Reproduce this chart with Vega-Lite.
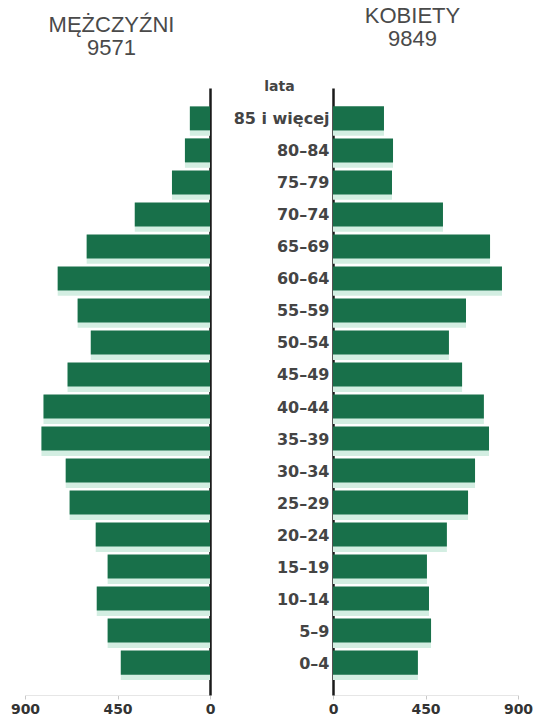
{
  "$schema": "https://vega.github.io/schema/vega-lite/v6.json",
  "padding": {"left": 10, "top": 5, "right": 5, "bottom": 2},
  "background": "white",
  "config": {
    "view": {"stroke": null},
    "font": "Liberation Sans",
    "title": {"font": "Liberation Sans", "fontSize": 22, "fontWeight": "normal", "color": "#4a4a4a", "lineHeight": 23, "offset": 28, "anchor": "middle"},
    "axisX": {"labelFont": "DejaVu Sans", "labelFontWeight": "bold", "labelFontSize": 14, "labelColor": "#333", "domainColor": "#e6e6e6", "domainWidth": 1, "tickColor": "#c8c8c8", "tickSize": 4, "labelPadding": 3, "labelFlush": false, "grid": false, "title": null}
  },
  "data": {"values": [
    {"age": "85 i więcej", "sex": "M", "value": 98},
    {"age": "80–84", "sex": "M", "value": 122},
    {"age": "75–79", "sex": "M", "value": 185},
    {"age": "70–74", "sex": "M", "value": 366},
    {"age": "65–69", "sex": "M", "value": 600},
    {"age": "60–64", "sex": "M", "value": 741},
    {"age": "55–59", "sex": "M", "value": 644},
    {"age": "50–54", "sex": "M", "value": 580},
    {"age": "45–49", "sex": "M", "value": 693},
    {"age": "40–44", "sex": "M", "value": 810},
    {"age": "35–39", "sex": "M", "value": 820},
    {"age": "30–34", "sex": "M", "value": 702},
    {"age": "25–29", "sex": "M", "value": 683},
    {"age": "20–24", "sex": "M", "value": 556},
    {"age": "15–19", "sex": "M", "value": 498},
    {"age": "10–14", "sex": "M", "value": 551},
    {"age": "5–9", "sex": "M", "value": 498},
    {"age": "0–4", "sex": "M", "value": 434},
    {"age": "85 i więcej", "sex": "K", "value": 248},
    {"age": "80–84", "sex": "K", "value": 292},
    {"age": "75–79", "sex": "K", "value": 287},
    {"age": "70–74", "sex": "K", "value": 535},
    {"age": "65–69", "sex": "K", "value": 764},
    {"age": "60–64", "sex": "K", "value": 822},
    {"age": "55–59", "sex": "K", "value": 647},
    {"age": "50–54", "sex": "K", "value": 564},
    {"age": "45–49", "sex": "K", "value": 628},
    {"age": "40–44", "sex": "K", "value": 734},
    {"age": "35–39", "sex": "K", "value": 759},
    {"age": "30–34", "sex": "K", "value": 691},
    {"age": "25–29", "sex": "K", "value": 657},
    {"age": "20–24", "sex": "K", "value": 554},
    {"age": "15–19", "sex": "K", "value": 457},
    {"age": "10–14", "sex": "K", "value": 467},
    {"age": "5–9", "sex": "K", "value": 477},
    {"age": "0–4", "sex": "K", "value": 413}
  ]},
  "hconcat": [
    {
      "title": {"text": ["MĘŻCZYŹNI", "9571"], "dx": -6},
      "width": 185,
      "height": 607,
      "transform": [{"filter": "datum.sex === 'M'"}],
      "encoding": {
        "y": {"field": "age", "type": "nominal", "sort": null,
          "scale": {"paddingInner": 0, "paddingOuter": 0.48},
          "axis": {"orient": "right", "labels": false, "ticks": false, "title": null, "domainColor": "#1a1a1a", "domainWidth": 2.5}},
        "x": {"field": "value", "type": "quantitative", "scale": {"domain": [0, 900], "reverse": true},
          "axis": {"values": [0, 450, 900]}}
      },
      "layer": [
        {"mark": {"type": "bar", "color": "#d3eee2", "height": {"band": 0.9}, "yOffset": 2}},
        {"mark": {"type": "bar", "color": "#18704a", "height": {"band": 0.75}, "yOffset": -1}}
      ]
    },
    {
      "title": {"text": ["KOBIETY", "9849"], "dx": -13},
      "width": 185,
      "height": 607,
      "transform": [{"filter": "datum.sex === 'K'"}],
      "encoding": {
        "y": {"field": "age", "type": "nominal", "sort": null,
          "scale": {"paddingInner": 0, "paddingOuter": 0.48},
          "axis": {"orient": "left", "ticks": false, "domainColor": "#1a1a1a", "domainWidth": 2.5,
            "labelFont": "DejaVu Sans", "labelFontWeight": "bold", "labelFontSize": 16, "labelColor": "#444", "labelPadding": 4,
            "title": "lata", "titleAngle": 0, "titleFont": "DejaVu Sans", "titleFontWeight": "bold", "titleFontSize": 14, "titleColor": "#444",
            "titleAlign": "center", "titleBaseline": "middle", "titleX": -54, "titleY": -2}},
        "x": {"field": "value", "type": "quantitative", "scale": {"domain": [0, 900]},
          "axis": {"values": [0, 450, 900]}}
      },
      "layer": [
        {"mark": {"type": "bar", "color": "#d3eee2", "height": {"band": 0.9}, "yOffset": 2}},
        {"mark": {"type": "bar", "color": "#18704a", "height": {"band": 0.75}, "yOffset": -1}}
      ]
    }
  ],
  "spacing": 123,
  "bounds": "flush"
}
